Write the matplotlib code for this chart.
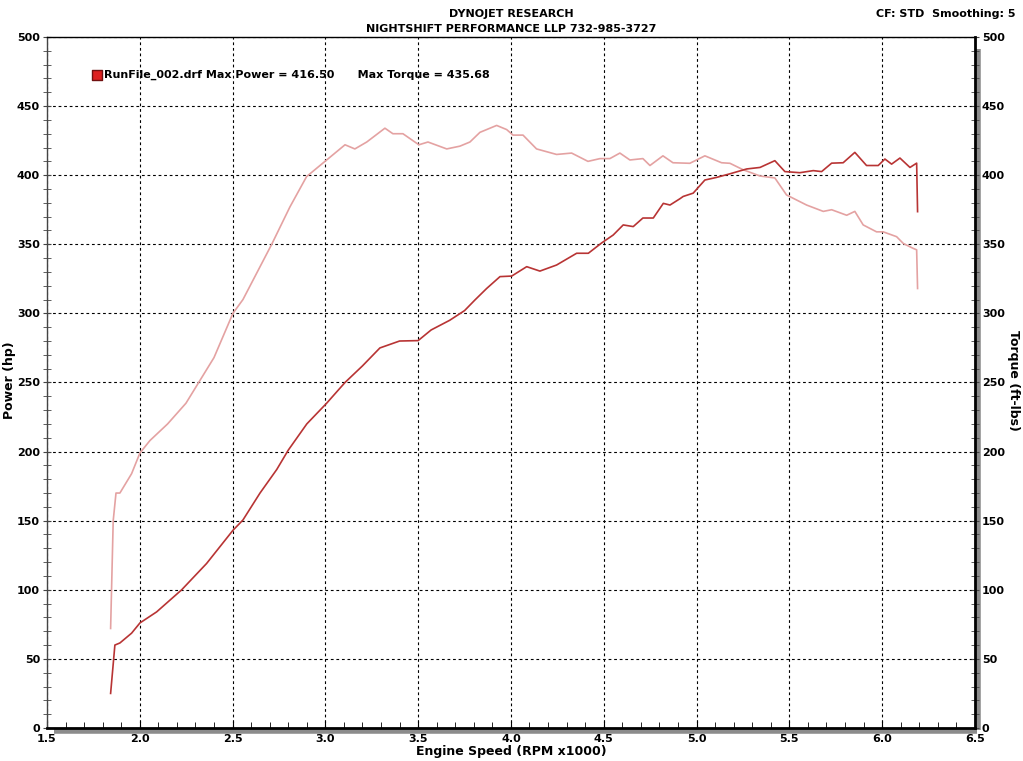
import matplotlib
matplotlib.use('Agg')
import matplotlib.pyplot as plt
import matplotlib.transforms as mtransforms
from matplotlib.ticker import MultipleLocator

# torque curve (ft-lbs) read from the dyno sheet
tq_rpm = [1.843, 1.857, 1.872, 1.893, 1.956, 2.001, 2.055, 2.150, 2.249, 2.400,
          2.502, 2.556, 2.711, 2.809, 2.899, 3.007, 3.106, 3.159, 3.223, 3.321,
          3.364, 3.418, 3.504, 3.553, 3.654, 3.725, 3.779, 3.833, 3.923, 3.977,
          4.011, 4.065, 4.138, 4.246, 4.327, 4.415, 4.480, 4.533, 4.587, 4.641,
          4.711, 4.749, 4.819, 4.873, 4.964, 5.045, 5.135, 5.180, 5.250, 5.342,
          5.422, 5.485, 5.593, 5.683, 5.728, 5.809, 5.853, 5.898, 5.970, 6.006,
          6.078, 6.114, 6.168, 6.186, 6.191]
tq_val = [72, 150, 170, 170, 184, 199, 208, 220, 235, 268,
          300, 310, 350, 377, 399, 411, 422, 419, 424, 434,
          430, 430, 422, 424, 419, 421, 424, 431, 436, 433,
          429, 429, 419, 415, 416, 410, 412, 412, 416, 411,
          412, 407, 414, 409, 408.6, 414, 409, 408.6, 404, 399.4,
          398, 385.7, 378.4, 373.8, 375, 371, 373.8, 364, 359, 359,
          355.5, 350.6, 347, 346, 318]

# power curve (hp)
hp_rpm = [1.843, 1.866, 1.893, 1.956, 2.001, 2.091, 2.226, 2.360, 2.502, 2.556,
          2.648, 2.738, 2.800, 2.900, 3.007, 3.106, 3.200, 3.294, 3.400, 3.500,
          3.570, 3.670, 3.750, 3.806, 3.869, 3.941, 4.004, 4.085, 4.156, 4.246,
          4.354, 4.417, 4.489, 4.551, 4.605, 4.659, 4.711, 4.767, 4.821, 4.857,
          4.911, 4.928, 4.982, 5.045, 5.108, 5.180, 5.270, 5.342, 5.422, 5.476,
          5.557, 5.629, 5.674, 5.728, 5.790, 5.853, 5.916, 5.979, 6.015, 6.051,
          6.096, 6.150, 6.186, 6.191]
hp_val = [25, 60, 61.5, 68.6, 76, 84, 100, 119, 143, 150.5,
          170, 187, 201, 220, 235, 250, 262, 275, 280, 280.3,
          288, 295, 302, 309.7, 318, 326.6, 327, 333.8, 330.6, 335,
          343.5, 343.5, 351, 356.7, 364, 362.8, 369, 369, 379.6, 378.4,
          383, 384.6, 387, 396.5, 398.4, 401, 404.5, 405.6, 410.5, 402.6,
          401.8, 403.3, 402.6, 408.7, 409, 416.5, 407, 407, 411.7, 408,
          412.4, 405.6, 408.7, 373.6]

x_ticks = [1.5, 2.0, 2.5, 3.0, 3.5, 4.0, 4.5, 5.0, 5.5, 6.0, 6.5]
y_ticks = [0, 50, 100, 150, 200, 250, 300, 350, 400, 450, 500]

plt.rcParams['font.family'] = ['DejaVu Sans']
fig = plt.figure(figsize=(10.23, 7.61), dpi=100)
ax = fig.add_axes([0.0459, 0.0434, 0.9071, 0.908])

ax.plot(tq_rpm, tq_val, color='#e4a2a2', lw=1.2)
ax.plot(hp_rpm, hp_val, color='#b83434', lw=1.2)

ax.set_xlim(1.5, 6.5)
ax.set_ylim(0, 500)
ax.set_xticks(x_ticks)
ax.set_xticklabels(['%.1f' % v for v in x_ticks])
ax.set_yticks(y_ticks)
ax.xaxis.set_minor_locator(MultipleLocator(0.1))
ax.yaxis.set_minor_locator(MultipleLocator(10))
ax.grid(True, which='major', color='black', linestyle=(0, (2.5, 2.5)), lw=0.8)
ax.tick_params(which='both', direction='in', labelsize=8, pad=4,
               right=True, labelright=True, top=False)
ax.tick_params(which='major', length=5)
ax.tick_params(which='minor', length=4)
ax.tick_params(axis='y', which='both', direction='inout', length=6, pad=2,
               color='#444444')
for lab in ax.get_xticklabels() + ax.get_yticklabels():
    lab.set_fontweight('bold')

for s in ax.spines.values():
    s.set_color('black')
    s.set_linewidth(1.0)
ax.spines['left'].set_color('#444444')
ax.spines['bottom'].set_linewidth(2.0)
ax.spines['right'].set_linewidth(2.0)

# grey shadow along bottom and right edges
off = mtransforms.offset_copy(ax.transAxes, fig=fig, x=2, y=-3, units='dots')
ax.plot([0.005, 1.0], [0, 0], color='#8c8c8c', lw=4, transform=off,
        clip_on=False, zorder=0, solid_capstyle='butt')
off2 = mtransforms.offset_copy(ax.transAxes, fig=fig, x=3, y=-2, units='dots')
ax.plot([1, 1], [0, 0.985], color='#8c8c8c', lw=4, transform=off2,
        clip_on=False, zorder=0, solid_capstyle='butt')

ax.set_xlabel('Engine Speed (RPM x1000)', fontsize=9, fontweight='bold', labelpad=1)
fig.text(0.009, 0.5, 'Power (hp)', rotation=90,
         ha='center', va='center', fontsize=9, fontweight='bold')
fig.text(0.991, 0.5, 'Torque (ft-lbs)', rotation=-90,
         ha='center', va='center', fontsize=9, fontweight='bold')

fig.text(0.5, 0.988, 'DYNOJET RESEARCH', ha='center', va='top',
         fontsize=8, fontweight='bold')
fig.text(0.5, 0.968, 'NIGHTSHIFT PERFORMANCE LLP 732-985-3727', ha='center', va='top',
         fontsize=8, fontweight='bold')
fig.text(0.993, 0.988, 'CF: STD  Smoothing: 5', ha='right', va='top',
         fontsize=8, fontweight='bold')

# legend line
ax.scatter([0.054], [0.945], marker='s', s=45, color='#dd2020', edgecolor='#701010',
           transform=ax.transAxes, zorder=5, clip_on=False)
ax.text(0.062, 0.945, 'RunFile_002.drf Max Power = 416.50      Max Torque = 435.68',
        transform=ax.transAxes, ha='left', va='center', fontsize=8, fontweight='bold',
        zorder=5)

fig.savefig('out.png', dpi=100)
